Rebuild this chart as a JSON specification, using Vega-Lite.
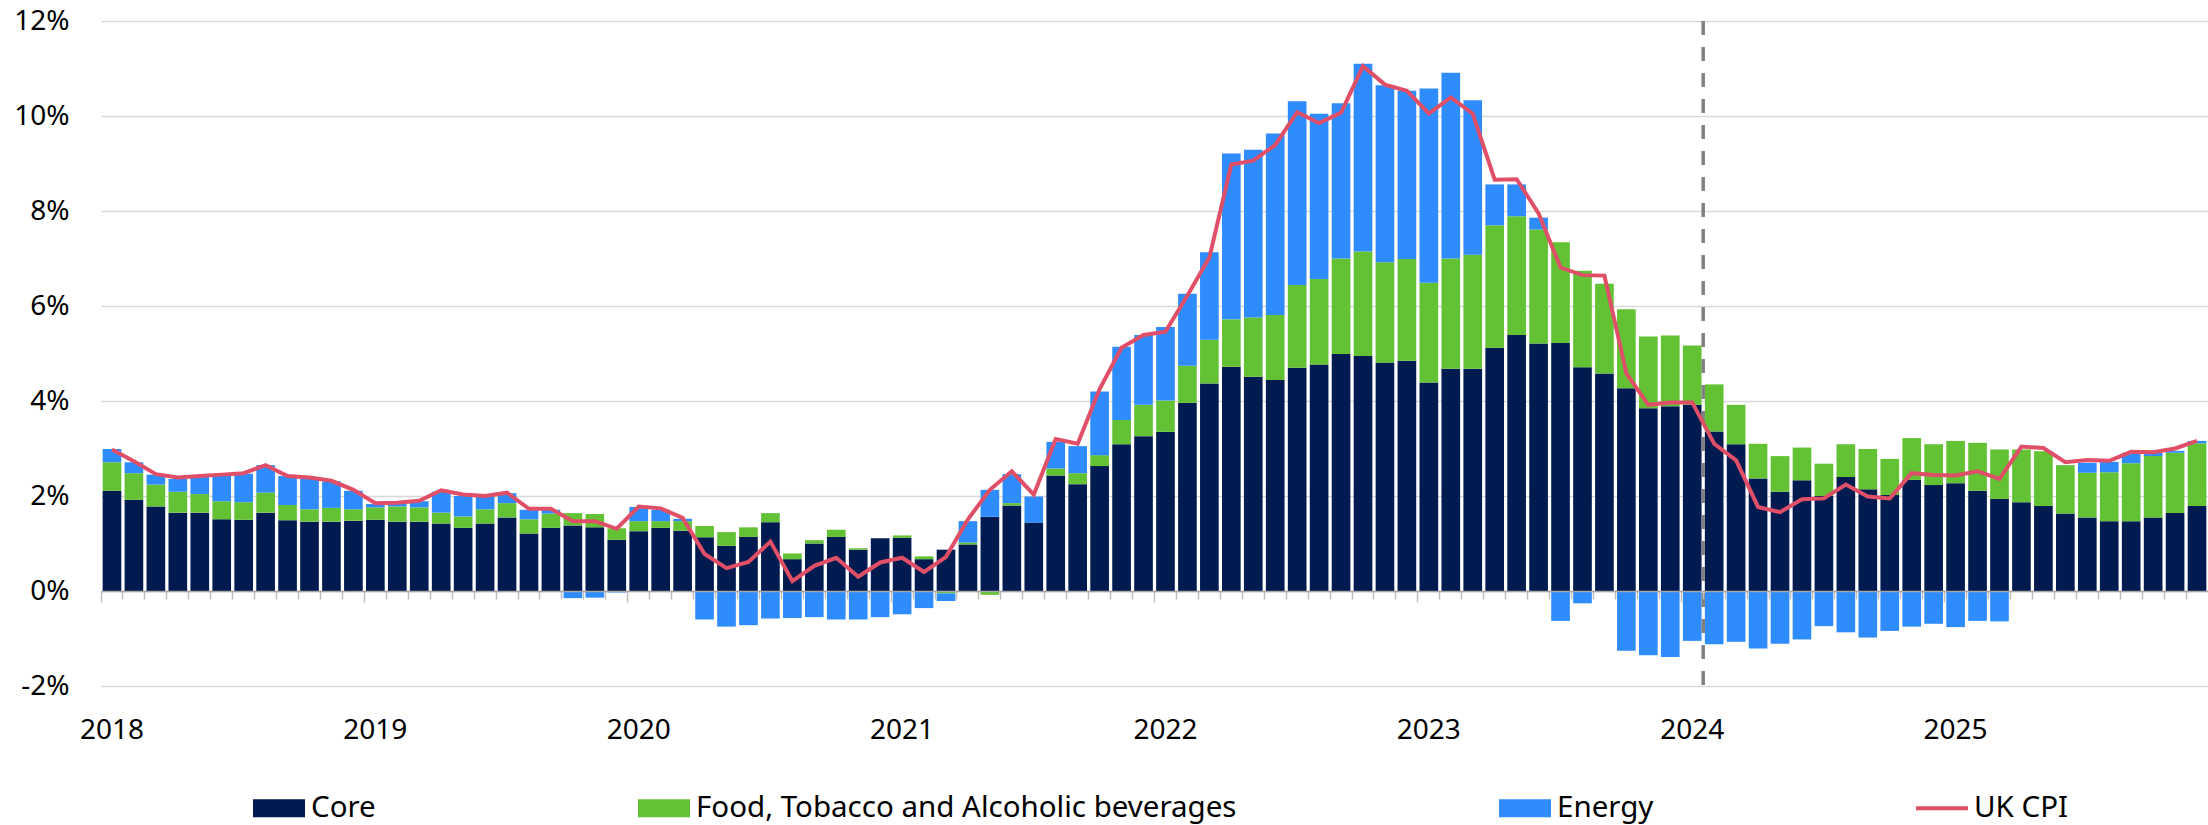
{
  "$schema": "https://vega.github.io/schema/vega-lite/v6.json",
  "width": 2107,
  "height": 665,
  "autosize": {"type": "none"},
  "padding": {"left": 101, "top": 21, "right": 0, "bottom": 139},
  "background": "white",
  "config": {
    "font": "Noto Sans",
    "view": {"stroke": null},
    "axis": {"labelFont": "Noto Sans", "labelColor": "#000000"},
    "legend": {"labelFont": "Noto Sans", "labelColor": "#000000"}
  },
  "data": {
    "values": [
      {"date": "2018-01", "Core": 2.11, "Food, Tobacco and Alcoholic beverages": 0.60, "Energy": 0.28, "UK CPI": 2.98},
      {"date": "2018-02", "Core": 1.92, "Food, Tobacco and Alcoholic beverages": 0.56, "Energy": 0.23, "UK CPI": 2.73},
      {"date": "2018-03", "Core": 1.78, "Food, Tobacco and Alcoholic beverages": 0.46, "Energy": 0.21, "UK CPI": 2.46},
      {"date": "2018-04", "Core": 1.65, "Food, Tobacco and Alcoholic beverages": 0.44, "Energy": 0.27, "UK CPI": 2.39},
      {"date": "2018-05", "Core": 1.65, "Food, Tobacco and Alcoholic beverages": 0.39, "Energy": 0.37, "UK CPI": 2.42},
      {"date": "2018-06", "Core": 1.51, "Food, Tobacco and Alcoholic beverages": 0.38, "Energy": 0.55, "UK CPI": 2.45},
      {"date": "2018-07", "Core": 1.50, "Food, Tobacco and Alcoholic beverages": 0.37, "Energy": 0.60, "UK CPI": 2.48},
      {"date": "2018-08", "Core": 1.65, "Food, Tobacco and Alcoholic beverages": 0.42, "Energy": 0.58, "UK CPI": 2.65},
      {"date": "2018-09", "Core": 1.49, "Food, Tobacco and Alcoholic beverages": 0.32, "Energy": 0.61, "UK CPI": 2.42},
      {"date": "2018-10", "Core": 1.46, "Food, Tobacco and Alcoholic beverages": 0.26, "Energy": 0.64, "UK CPI": 2.39},
      {"date": "2018-11", "Core": 1.46, "Food, Tobacco and Alcoholic beverages": 0.29, "Energy": 0.56, "UK CPI": 2.32},
      {"date": "2018-12", "Core": 1.48, "Food, Tobacco and Alcoholic beverages": 0.24, "Energy": 0.39, "UK CPI": 2.13},
      {"date": "2019-01", "Core": 1.50, "Food, Tobacco and Alcoholic beverages": 0.26, "Energy": 0.07, "UK CPI": 1.85},
      {"date": "2019-02", "Core": 1.46, "Food, Tobacco and Alcoholic beverages": 0.32, "Energy": 0.07, "UK CPI": 1.86},
      {"date": "2019-03", "Core": 1.46, "Food, Tobacco and Alcoholic beverages": 0.30, "Energy": 0.13, "UK CPI": 1.90},
      {"date": "2019-04", "Core": 1.42, "Food, Tobacco and Alcoholic beverages": 0.23, "Energy": 0.44, "UK CPI": 2.12},
      {"date": "2019-05", "Core": 1.33, "Food, Tobacco and Alcoholic beverages": 0.24, "Energy": 0.43, "UK CPI": 2.03},
      {"date": "2019-06", "Core": 1.42, "Food, Tobacco and Alcoholic beverages": 0.30, "Energy": 0.28, "UK CPI": 2.00},
      {"date": "2019-07", "Core": 1.55, "Food, Tobacco and Alcoholic beverages": 0.30, "Energy": 0.21, "UK CPI": 2.07},
      {"date": "2019-08", "Core": 1.21, "Food, Tobacco and Alcoholic beverages": 0.30, "Energy": 0.20, "UK CPI": 1.73},
      {"date": "2019-09", "Core": 1.33, "Food, Tobacco and Alcoholic beverages": 0.30, "Energy": 0.08, "UK CPI": 1.73},
      {"date": "2019-10", "Core": 1.38, "Food, Tobacco and Alcoholic beverages": 0.26, "Energy": -0.15, "UK CPI": 1.47},
      {"date": "2019-11", "Core": 1.34, "Food, Tobacco and Alcoholic beverages": 0.28, "Energy": -0.14, "UK CPI": 1.47},
      {"date": "2019-12", "Core": 1.08, "Food, Tobacco and Alcoholic beverages": 0.24, "Energy": -0.03, "UK CPI": 1.31},
      {"date": "2020-01", "Core": 1.26, "Food, Tobacco and Alcoholic beverages": 0.21, "Energy": 0.30, "UK CPI": 1.78},
      {"date": "2020-02", "Core": 1.33, "Food, Tobacco and Alcoholic beverages": 0.14, "Energy": 0.24, "UK CPI": 1.74},
      {"date": "2020-03", "Core": 1.27, "Food, Tobacco and Alcoholic beverages": 0.20, "Energy": 0.05, "UK CPI": 1.54},
      {"date": "2020-04", "Core": 1.13, "Food, Tobacco and Alcoholic beverages": 0.24, "Energy": -0.60, "UK CPI": 0.78},
      {"date": "2020-05", "Core": 0.95, "Food, Tobacco and Alcoholic beverages": 0.29, "Energy": -0.75, "UK CPI": 0.48},
      {"date": "2020-06", "Core": 1.14, "Food, Tobacco and Alcoholic beverages": 0.20, "Energy": -0.72, "UK CPI": 0.61},
      {"date": "2020-07", "Core": 1.45, "Food, Tobacco and Alcoholic beverages": 0.19, "Energy": -0.58, "UK CPI": 1.04},
      {"date": "2020-08", "Core": 0.67, "Food, Tobacco and Alcoholic beverages": 0.12, "Energy": -0.57, "UK CPI": 0.21},
      {"date": "2020-09", "Core": 1.00, "Food, Tobacco and Alcoholic beverages": 0.07, "Energy": -0.55, "UK CPI": 0.53},
      {"date": "2020-10", "Core": 1.14, "Food, Tobacco and Alcoholic beverages": 0.15, "Energy": -0.60, "UK CPI": 0.70},
      {"date": "2020-11", "Core": 0.87, "Food, Tobacco and Alcoholic beverages": 0.03, "Energy": -0.60, "UK CPI": 0.30},
      {"date": "2020-12", "Core": 1.11, "Food, Tobacco and Alcoholic beverages": 0.00, "Energy": -0.55, "UK CPI": 0.60},
      {"date": "2021-01", "Core": 1.12, "Food, Tobacco and Alcoholic beverages": 0.05, "Energy": -0.49, "UK CPI": 0.70},
      {"date": "2021-02", "Core": 0.67, "Food, Tobacco and Alcoholic beverages": 0.06, "Energy": -0.36, "UK CPI": 0.40},
      {"date": "2021-03", "Core": 0.87, "Food, Tobacco and Alcoholic beverages": -0.05, "Energy": -0.16, "UK CPI": 0.72},
      {"date": "2021-04", "Core": 0.98, "Food, Tobacco and Alcoholic beverages": 0.04, "Energy": 0.45, "UK CPI": 1.51},
      {"date": "2021-05", "Core": 1.56, "Food, Tobacco and Alcoholic beverages": -0.08, "Energy": 0.57, "UK CPI": 2.13},
      {"date": "2021-06", "Core": 1.80, "Food, Tobacco and Alcoholic beverages": 0.05, "Energy": 0.61, "UK CPI": 2.52},
      {"date": "2021-07", "Core": 1.44, "Food, Tobacco and Alcoholic beverages": 0.00, "Energy": 0.55, "UK CPI": 2.03},
      {"date": "2021-08", "Core": 2.43, "Food, Tobacco and Alcoholic beverages": 0.15, "Energy": 0.56, "UK CPI": 3.20},
      {"date": "2021-09", "Core": 2.25, "Food, Tobacco and Alcoholic beverages": 0.23, "Energy": 0.57, "UK CPI": 3.10},
      {"date": "2021-10", "Core": 2.63, "Food, Tobacco and Alcoholic beverages": 0.23, "Energy": 1.34, "UK CPI": 4.25},
      {"date": "2021-11", "Core": 3.09, "Food, Tobacco and Alcoholic beverages": 0.51, "Energy": 1.54, "UK CPI": 5.12},
      {"date": "2021-12", "Core": 3.26, "Food, Tobacco and Alcoholic beverages": 0.66, "Energy": 1.47, "UK CPI": 5.39},
      {"date": "2022-01", "Core": 3.35, "Food, Tobacco and Alcoholic beverages": 0.66, "Energy": 1.55, "UK CPI": 5.46},
      {"date": "2022-02", "Core": 3.96, "Food, Tobacco and Alcoholic beverages": 0.78, "Energy": 1.52, "UK CPI": 6.22},
      {"date": "2022-03", "Core": 4.37, "Food, Tobacco and Alcoholic beverages": 0.92, "Energy": 1.84, "UK CPI": 7.02},
      {"date": "2022-04", "Core": 4.72, "Food, Tobacco and Alcoholic beverages": 1.00, "Energy": 3.49, "UK CPI": 8.98},
      {"date": "2022-05", "Core": 4.51, "Food, Tobacco and Alcoholic beverages": 1.25, "Energy": 3.53, "UK CPI": 9.06},
      {"date": "2022-06", "Core": 4.44, "Food, Tobacco and Alcoholic beverages": 1.37, "Energy": 3.82, "UK CPI": 9.39},
      {"date": "2022-07", "Core": 4.70, "Food, Tobacco and Alcoholic beverages": 1.74, "Energy": 3.87, "UK CPI": 10.08},
      {"date": "2022-08", "Core": 4.77, "Food, Tobacco and Alcoholic beverages": 1.80, "Energy": 3.48, "UK CPI": 9.85},
      {"date": "2022-09", "Core": 4.99, "Food, Tobacco and Alcoholic beverages": 2.01, "Energy": 3.27, "UK CPI": 10.07},
      {"date": "2022-10", "Core": 4.95, "Food, Tobacco and Alcoholic beverages": 2.20, "Energy": 3.95, "UK CPI": 11.05},
      {"date": "2022-11", "Core": 4.81, "Food, Tobacco and Alcoholic beverages": 2.11, "Energy": 3.73, "UK CPI": 10.66},
      {"date": "2022-12", "Core": 4.85, "Food, Tobacco and Alcoholic beverages": 2.14, "Energy": 3.54, "UK CPI": 10.53},
      {"date": "2023-01", "Core": 4.39, "Food, Tobacco and Alcoholic beverages": 2.10, "Energy": 4.09, "UK CPI": 10.05},
      {"date": "2023-02", "Core": 4.68, "Food, Tobacco and Alcoholic beverages": 2.32, "Energy": 3.91, "UK CPI": 10.39},
      {"date": "2023-03", "Core": 4.68, "Food, Tobacco and Alcoholic beverages": 2.40, "Energy": 3.25, "UK CPI": 10.05},
      {"date": "2023-04", "Core": 5.12, "Food, Tobacco and Alcoholic beverages": 2.58, "Energy": 0.86, "UK CPI": 8.66},
      {"date": "2023-05", "Core": 5.39, "Food, Tobacco and Alcoholic beverages": 2.50, "Energy": 0.67, "UK CPI": 8.67},
      {"date": "2023-06", "Core": 5.21, "Food, Tobacco and Alcoholic beverages": 2.40, "Energy": 0.25, "UK CPI": 7.95},
      {"date": "2023-07", "Core": 5.22, "Food, Tobacco and Alcoholic beverages": 2.12, "Energy": -0.63, "UK CPI": 6.81},
      {"date": "2023-08", "Core": 4.71, "Food, Tobacco and Alcoholic beverages": 2.03, "Energy": -0.26, "UK CPI": 6.65},
      {"date": "2023-09", "Core": 4.58, "Food, Tobacco and Alcoholic beverages": 1.89, "Energy": 0.00, "UK CPI": 6.64},
      {"date": "2023-10", "Core": 4.27, "Food, Tobacco and Alcoholic beverages": 1.66, "Energy": -1.26, "UK CPI": 4.58},
      {"date": "2023-11", "Core": 3.85, "Food, Tobacco and Alcoholic beverages": 1.51, "Energy": -1.35, "UK CPI": 3.92},
      {"date": "2023-12", "Core": 3.89, "Food, Tobacco and Alcoholic beverages": 1.49, "Energy": -1.39, "UK CPI": 3.97},
      {"date": "2024-01", "Core": 3.92, "Food, Tobacco and Alcoholic beverages": 1.25, "Energy": -1.05, "UK CPI": 3.97},
      {"date": "2024-02", "Core": 3.36, "Food, Tobacco and Alcoholic beverages": 0.99, "Energy": -1.12, "UK CPI": 3.10},
      {"date": "2024-03", "Core": 3.09, "Food, Tobacco and Alcoholic beverages": 0.83, "Energy": -1.07, "UK CPI": 2.75},
      {"date": "2024-04", "Core": 2.37, "Food, Tobacco and Alcoholic beverages": 0.73, "Energy": -1.21, "UK CPI": 1.77},
      {"date": "2024-05", "Core": 2.09, "Food, Tobacco and Alcoholic beverages": 0.75, "Energy": -1.11, "UK CPI": 1.66},
      {"date": "2024-06", "Core": 2.33, "Food, Tobacco and Alcoholic beverages": 0.69, "Energy": -1.02, "UK CPI": 1.93},
      {"date": "2024-07", "Core": 2.00, "Food, Tobacco and Alcoholic beverages": 0.68, "Energy": -0.74, "UK CPI": 1.95},
      {"date": "2024-08", "Core": 2.40, "Food, Tobacco and Alcoholic beverages": 0.69, "Energy": -0.87, "UK CPI": 2.24},
      {"date": "2024-09", "Core": 2.14, "Food, Tobacco and Alcoholic beverages": 0.85, "Energy": -0.98, "UK CPI": 1.99},
      {"date": "2024-10", "Core": 2.02, "Food, Tobacco and Alcoholic beverages": 0.76, "Energy": -0.84, "UK CPI": 1.95},
      {"date": "2024-11", "Core": 2.34, "Food, Tobacco and Alcoholic beverages": 0.88, "Energy": -0.75, "UK CPI": 2.48},
      {"date": "2024-12", "Core": 2.23, "Food, Tobacco and Alcoholic beverages": 0.86, "Energy": -0.69, "UK CPI": 2.44},
      {"date": "2025-01", "Core": 2.27, "Food, Tobacco and Alcoholic beverages": 0.89, "Energy": -0.76, "UK CPI": 2.43},
      {"date": "2025-02", "Core": 2.11, "Food, Tobacco and Alcoholic beverages": 1.01, "Energy": -0.63, "UK CPI": 2.52},
      {"date": "2025-03", "Core": 1.94, "Food, Tobacco and Alcoholic beverages": 1.04, "Energy": -0.64, "UK CPI": 2.36},
      {"date": "2025-04", "Core": 1.87, "Food, Tobacco and Alcoholic beverages": 1.11, "Energy": 0.00, "UK CPI": 3.04},
      {"date": "2025-05", "Core": 1.79, "Food, Tobacco and Alcoholic beverages": 1.15, "Energy": 0.00, "UK CPI": 3.01},
      {"date": "2025-06", "Core": 1.63, "Food, Tobacco and Alcoholic beverages": 1.02, "Energy": 0.00, "UK CPI": 2.71},
      {"date": "2025-07", "Core": 1.55, "Food, Tobacco and Alcoholic beverages": 0.94, "Energy": 0.21, "UK CPI": 2.76},
      {"date": "2025-08", "Core": 1.47, "Food, Tobacco and Alcoholic beverages": 1.03, "Energy": 0.22, "UK CPI": 2.74},
      {"date": "2025-09", "Core": 1.47, "Food, Tobacco and Alcoholic beverages": 1.22, "Energy": 0.22, "UK CPI": 2.93},
      {"date": "2025-10", "Core": 1.55, "Food, Tobacco and Alcoholic beverages": 1.29, "Energy": 0.07, "UK CPI": 2.92},
      {"date": "2025-11", "Core": 1.64, "Food, Tobacco and Alcoholic beverages": 1.27, "Energy": 0.04, "UK CPI": 3.00},
      {"date": "2025-12", "Core": 1.79, "Food, Tobacco and Alcoholic beverages": 1.32, "Energy": 0.05, "UK CPI": 3.16}
    ]
  },
  "layer": [
    {
      "transform": [
        {"fold": ["Core", "Food, Tobacco and Alcoholic beverages", "Energy"], "as": ["series", "value"]},
        {"calculate": "indexof(['Core', 'Food, Tobacco and Alcoholic beverages', 'Energy'], datum.series)", "as": "stackOrder"}
      ],
      "mark": {"type": "bar"},
      "encoding": {
        "x": {
          "field": "date",
          "type": "ordinal",
          "scale": {"paddingInner": 0.15, "paddingOuter": 0.075},
          "axis": {
            "title": null,
            "orient": "bottom",
            "offset": -95,
            "bandPosition": -0.088,
            "grid": false,
            "domainColor": "#a6a6a6",
            "domainWidth": 1.5,
            "tickColor": "#bfbfbf",
            "tickWidth": 1.5,
            "tickSize": {"condition": {"test": "slice(datum.value, 5) == '01'", "value": 11}, "value": 8},
            "labelExpr": "slice(datum.value, 5) == '01' ? slice(datum.value, 0, 4) : ''",
            "labelAngle": 0,
            "labelFontSize": 28,
            "labelPadding": 114,
            "labelOffset": 0,
            "labelOverlap": false,
            "labelBound": false,
            "zindex": 1
          }
        },
        "y": {
          "field": "value",
          "type": "quantitative",
          "stack": "zero",
          "scale": {"domain": [-2, 12], "nice": false},
          "axis": {
            "title": null,
            "values": [-2, 0, 2, 4, 6, 8, 10, 12],
            "labelExpr": "datum.value + '%'",
            "domain": false,
            "ticks": false,
            "labelPadding": 32,
            "labelFontSize": 28,
            "gridColor": "#d9d9d9",
            "gridWidth": 1.5
          }
        },
        "order": {"field": "stackOrder", "type": "quantitative", "sort": "ascending"},
        "color": {
          "field": "series",
          "type": "nominal",
          "scale": {
            "domain": ["Core", "Food, Tobacco and Alcoholic beverages", "Energy", "UK CPI"],
            "range": ["#011a50", "#63c233", "#2f8cff", "#df5068"]
          },
          "legend": {
            "title": null,
            "orient": "none",
            "legendX": 152,
            "legendY": 761,
            "direction": "horizontal",
            "columnPadding": 262,
            "symbolType": "M-1,-0.346H1V0.346H-1Z",
            "symbolSize": 2704,
            "symbolStrokeWidth": 0,
            "labelFontSize": 29.5,
            "labelOffset": 6,
            "labelLimit": 1000,
            "encode": {
              "symbols": {
                "update": {
                  "shape": {"signal": "datum.value === 'UK CPI' ? 'M-1,-0.08H1V0.08H-1Z' : 'M-1,-0.346H1V0.346H-1Z'"},
                  "fill": {"scale": "color", "field": "value"},
                  "strokeWidth": {"value": 0}
                }
              }
            }
          }
        }
      }
    },
    {
      "data": {"values": [{"date": "2024-01"}]},
      "mark": {"type": "rule", "color": "#808080", "strokeWidth": 3.5, "strokeDash": [14, 12]},
      "encoding": {
        "x": {"field": "date", "type": "ordinal", "bandPosition": 1.088}
      }
    },
    {
      "mark": {"type": "line", "strokeWidth": 4, "interpolate": "linear"},
      "encoding": {
        "x": {"field": "date", "type": "ordinal"},
        "y": {"field": "UK CPI", "type": "quantitative"},
        "color": {"datum": "UK CPI", "type": "nominal"}
      }
    }
  ]
}
